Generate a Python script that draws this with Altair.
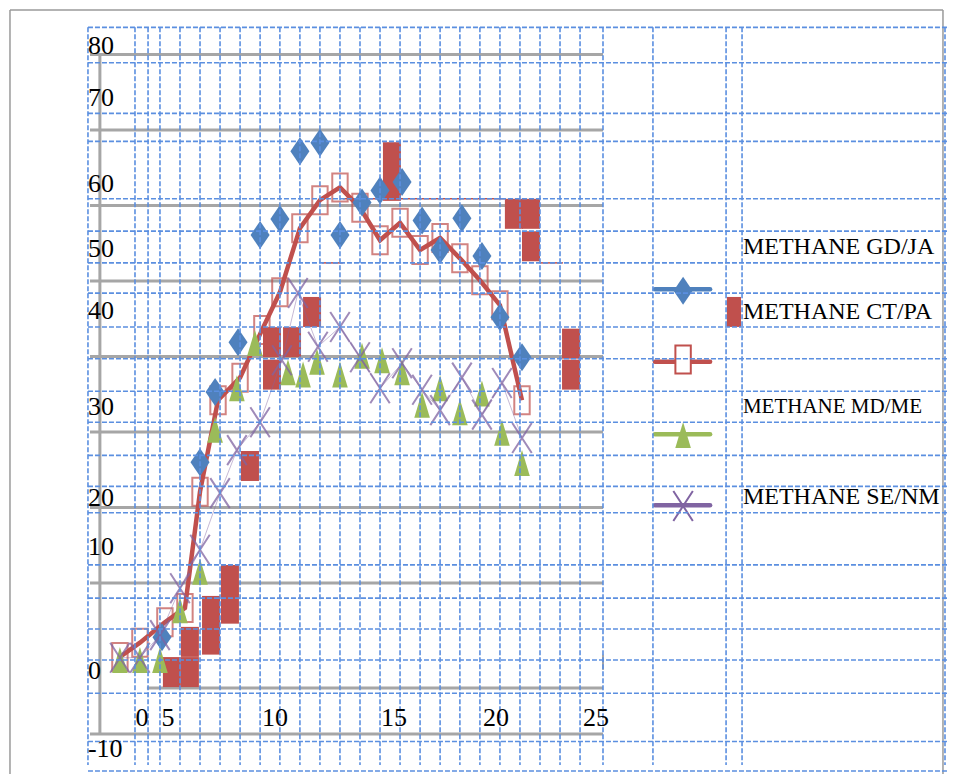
import altair as alt
import pandas as pd

# ---------------- data ----------------
# METHANE GD/JA (blue diamonds)
gd_x = [5.2, 6.89, 7.56, 8.58, 9.56, 10.44, 11.33, 12.22, 13.11, 14.09, 14.89, 15.87, 16.76, 17.56, 18.53, 19.42, 20.22, 21.2]
gd_y = [2.8, 26.0, 35.3, 41.9, 56.1, 58.2, 67.2, 68.3, 56.1, 60.4, 62.0, 63.1, 58.0, 54.1, 58.3, 53.3, 45.2, 39.9]

# METHANE CT/PA (red filled blocks)
ct_x = [5.64, 6.44, 6.44, 7.38, 7.38, 8.22, 8.22, 9.11, 10.09, 10.09, 10.98, 11.87, 15.42, 15.42, 20.84, 21.6, 21.6, 23.38, 23.38]
ct_y = [-1.8, 2.2, -1.8, 6.3, 2.5, 10.4, 6.6, 25.5, 41.9, 37.6, 41.9, 45.9, 66.4, 62.6, 58.9, 58.9, 54.6, 41.7, 37.6]

# unlabeled red series (line + open squares)
s3_x = [3.33, 4.22, 5.33, 6.22, 6.89, 7.69, 8.67, 9.64, 10.44, 11.33, 12.22, 13.11, 14.0, 14.89, 15.78, 16.67, 17.56, 18.44, 19.33, 20.22, 21.2]
s3_y = [0.2, 2.1, 4.8, 6.7, 22.1, 34.2, 37.2, 43.5, 48.5, 57.0, 60.7, 62.4, 59.7, 55.4, 57.7, 54.1, 55.7, 53.0, 50.1, 46.8, 34.2]

# METHANE MD/ME (green triangles)
md_x = [3.33, 4.22, 5.11, 6.0, 6.89, 7.56, 8.53, 9.33, 10.8, 11.47, 12.09, 13.11, 14.09, 14.98, 15.87, 16.76, 17.56, 18.44, 19.42, 20.31, 21.2]
md_y = [-0.2, -0.2, -0.2, 6.4, 11.5, 30.3, 35.8, 41.8, 37.9, 37.6, 39.3, 37.6, 40.1, 39.5, 37.9, 33.6, 35.8, 32.6, 35.1, 29.9, 25.9]

# METHANE SE/NM (purple crosses)
se_x = [3.33, 4.22, 5.11, 6.0, 6.89, 7.78, 8.53, 9.56, 10.53, 11.24, 12.13, 13.11, 14.0, 14.89, 15.87, 16.76, 17.56, 18.53, 19.42, 20.31, 21.2]
se_y = [0.1, 0.1, 3.1, 9.3, 14.4, 21.9, 27.6, 31.3, 39.5, 48.4, 41.3, 43.9, 39.9, 35.8, 39.1, 35.6, 32.9, 37.2, 32.3, 36.5, 29.2]

# thin red horizontal segments
seg_x = [13.24, 12.31, 22.0]
seg_x2 = [20.44, 13.24, 23.02]
seg_y = [60.9, 52.4, 52.4]

# tick labels (as drawn, misplaced in the original)
ytick_text = ["80", "70", "60", "50", "40", "30", "20", "10", "0", "-10"]
ytick_pos = [81.1, 74.3, 62.8, 54.2, 46.0, 33.3, 21.3, 14.8, -1.7, -12.0]
xtick_text = ["0", "5", "10", "15", "20", "25"]
xtick_pos = [4.31, 5.47, 10.22, 15.51, 20.04, 24.49]

# gray gridlines
grid_vals = [80, 70, 60, 50, 40, 30, 20, 10, -10]

# legend
leg_names = ["METHANE GD/JA", "METHANE CT/PA", "METHANE MD/ME", "METHANE SE/NM"]
leg_text_y = [54.5, 45.9, 33.3, 21.4]
leg_line_y = [48.9, 39.3, 29.7, 20.3]

# decorative blue dashed cell grid
dash_x = [1.91, 4.0, 4.58, 5.11, 6.0, 6.89, 7.78, 8.67, 9.56, 10.44, 11.33, 12.22, 13.11, 14.0,
          14.89, 15.78, 16.67, 17.56, 18.44, 19.33, 20.22, 21.11, 22.0, 22.89, 23.78, 24.8,
          27.02, 30.27, 30.98, 40.0]
dash_y = [83.6, 78.9, 72.2, 68.5, 60.9, 56.6, 52.4, 48.4, 43.9, 39.7, 35.4, 31.3, 26.9, 22.8,
          19.3, 12.4, 8.0, 3.9, -0.2, -4.6, -11.0, -14.9]

BLUE, RED, GREEN, PURPLE = "#4F81BD", "#C0504D", "#9BBB59", "#8064A2"
GRAY = "#A6A6A6"
DASH = "#5B8FE0"
FONT = "Liberation Serif"

xs = alt.Scale(domain=[-1.644, 40.178], nice=False, zero=False)
ys = alt.Scale(domain=[-15.30, 86.16], nice=False, zero=False)
X = alt.X("x:Q", scale=xs, axis=None)
Y = alt.Y("y:Q", scale=ys, axis=None)

DIAMOND = "M0,-1L0.68,0L0,1L-0.68,0Z"
RECT = "M-0.6,-1L0.6,-1L0.6,1L-0.6,1Z"
OPENSQ = "M-0.55,-1L0.55,-1L0.55,1L-0.55,1Z"
TRI = "M0,-1L0.6,1L-0.6,1Z"
XMARK = "M-0.65,-1L0.65,1M0.65,-1L-0.65,1"

def df(x, y):
    return pd.DataFrame({"x": x, "y": y})

layers = []

# frame
frame = pd.DataFrame({"x": [-1.556, -1.556, 39.91], "x2": [39.91, -1.556, 39.91],
                      "y": [85.9, 85.9, 85.9], "y2": [85.9, -15.3, -15.3]})
layers.append(alt.Chart(frame).mark_rule(color="#9A9A9A", strokeWidth=1.5).encode(
    x=X, y=Y, x2="x2:Q", y2="y2:Q"))

# gray gridlines
g = pd.DataFrame({"y": grid_vals, "x": [2.0] * len(grid_vals), "x2": [24.8] * len(grid_vals)})
layers.append(alt.Chart(g).mark_rule(color=GRAY, strokeWidth=3).encode(x=X, x2="x2:Q", y=Y))
axis_line = pd.DataFrame({"x": [4.53], "x2": [24.8], "y": [-3.9]})
layers.append(alt.Chart(axis_line).mark_rule(color=GRAY, strokeWidth=3).encode(x=X, x2="x2:Q", y=Y))
vaxis = pd.DataFrame({"x": [2.44], "y": [80], "y2": [-10]})
layers.append(alt.Chart(vaxis).mark_rule(color=GRAY, strokeWidth=3).encode(x=X, y=Y, y2="y2:Q"))
tick = pd.DataFrame({"x": [24.8], "y": [0.5], "y2": [-1.5]})
layers.append(alt.Chart(tick).mark_rule(color=GRAY, strokeWidth=2).encode(x=X, y=Y, y2="y2:Q"))

# thin red segments
seg = pd.DataFrame({"x": seg_x, "x2": seg_x2, "y": seg_y})
layers.append(alt.Chart(seg).mark_rule(color=RED, strokeWidth=1.5).encode(x=X, x2="x2:Q", y=Y))

# series 3 red line + open squares
layers.append(alt.Chart(df(s3_x, s3_y)).mark_line(color=RED, strokeWidth=4.5).encode(x=X, y=Y, order="x:Q"))
layers.append(alt.Chart(df(s3_x, s3_y)).mark_point(shape=OPENSQ, size=784, filled=False, color=RED,
                                                   strokeWidth=2, opacity=0.7).encode(x=X, y=Y))

# CT/PA blocks
layers.append(alt.Chart(df(ct_x, ct_y)).mark_point(shape=RECT, size=900, filled=True, color=RED,
                                                   opacity=1).encode(x=X, y=Y))
# GD/JA diamonds
layers.append(alt.Chart(df(gd_x, gd_y)).mark_point(shape=DIAMOND, size=784, filled=True, color=BLUE,
                                                   opacity=1).encode(x=X, y=Y))
# MD/ME triangles
layers.append(alt.Chart(df(md_x, md_y)).mark_point(shape=TRI, size=676, filled=True, color=GREEN,
                                                   opacity=1).encode(x=X, y=Y))
# SE/NM crosses with thin line
layers.append(alt.Chart(df(se_x, se_y)).mark_line(color=PURPLE, strokeWidth=1, opacity=0.45).encode(
    x=X, y=Y, order="x:Q"))
layers.append(alt.Chart(df(se_x, se_y)).mark_point(shape=XMARK, size=900, filled=False, color=PURPLE,
                                                   strokeWidth=2, opacity=0.75).encode(x=X, y=Y))

# legend symbols
leg_colors = [BLUE, RED, GREEN, PURPLE]
ll = pd.DataFrame({"x": [27.11] * 4, "x2": [29.56] * 4, "y": leg_line_y, "c": leg_colors})
layers.append(alt.Chart(ll).mark_rule(strokeWidth=4.5, strokeCap="round").encode(
    x=X, x2="x2:Q", y=Y, color=alt.Color("c:N", scale=None)))
layers.append(alt.Chart(df([28.36], [48.7])).mark_point(shape=DIAMOND, size=784, filled=True,
                                                        color=BLUE, opacity=1).encode(x=X, y=Y))
layers.append(alt.Chart(df([30.62], [45.9])).mark_point(shape="M-0.47,-1L0.47,-1L0.47,1L-0.47,1Z",
                                                        size=900, filled=True, color=RED,
                                                        opacity=1).encode(x=X, y=Y))
layers.append(alt.Chart(df([28.36], [39.6])).mark_point(shape=OPENSQ, size=784, filled=True, fill="white",
                                                        stroke=RED, strokeWidth=2, opacity=1).encode(x=X, y=Y))
layers.append(alt.Chart(df([28.36], [29.6])).mark_point(shape=TRI, size=676, filled=True, color=GREEN,
                                                        opacity=1).encode(x=X, y=Y))
layers.append(alt.Chart(df([28.36], [20.2])).mark_point(shape=XMARK, size=900, filled=False, color=PURPLE,
                                                        strokeWidth=2, opacity=1).encode(x=X, y=Y))

# dashed cell grid (drawn over the marks, as in the original)
dv = pd.DataFrame({"x": dash_x, "y": [83.6] * len(dash_x), "y2": [-14.1] * len(dash_x)})
layers.append(alt.Chart(dv).mark_rule(color=DASH, strokeWidth=1.6, strokeDash=[5, 2]).encode(
    x=X, y=Y, y2="y2:Q"))
dh = pd.DataFrame({"y": dash_y, "x": [1.91] * len(dash_y), "x2": [40.5] * len(dash_y)})
layers.append(alt.Chart(dh).mark_rule(color=DASH, strokeWidth=1.6, strokeDash=[5, 2]).encode(
    x=X, x2="x2:Q", y=Y))

# tick labels
yt = pd.DataFrame({"x": [1.91] * len(ytick_text), "y": ytick_pos, "t": ytick_text})
layers.append(alt.Chart(yt).mark_text(align="left", baseline="middle", font=FONT, fontSize=26,
                                      color="black").encode(x=X, y=Y, text="t:N"))
xt = pd.DataFrame({"x": xtick_pos, "y": [-7.9] * len(xtick_pos), "t": xtick_text})
layers.append(alt.Chart(xt).mark_text(align="center", baseline="middle", font=FONT, fontSize=26,
                                      color="black").encode(x=X, y=Y, text="t:N"))

# legend text
lt = pd.DataFrame({"x": [31.02] * 4, "y": leg_text_y, "t": leg_names, "fs": [24, 24, 21, 24]})
layers.append(alt.Chart(lt).mark_text(align="left", baseline="middle", font=FONT,
                                      color="black").encode(x=X, y=Y, text="t:N",
                                                            size=alt.Size("fs:Q", scale=None, legend=None)))

chart = alt.layer(*layers).properties(
    width=941, height=766,
    autosize=alt.AutoSizeParams(type="none"),
    padding=0,
    background="white",
).configure_view(stroke=None)

chart.save("out.html", embed_options={"renderer": "svg", "actions": False})
